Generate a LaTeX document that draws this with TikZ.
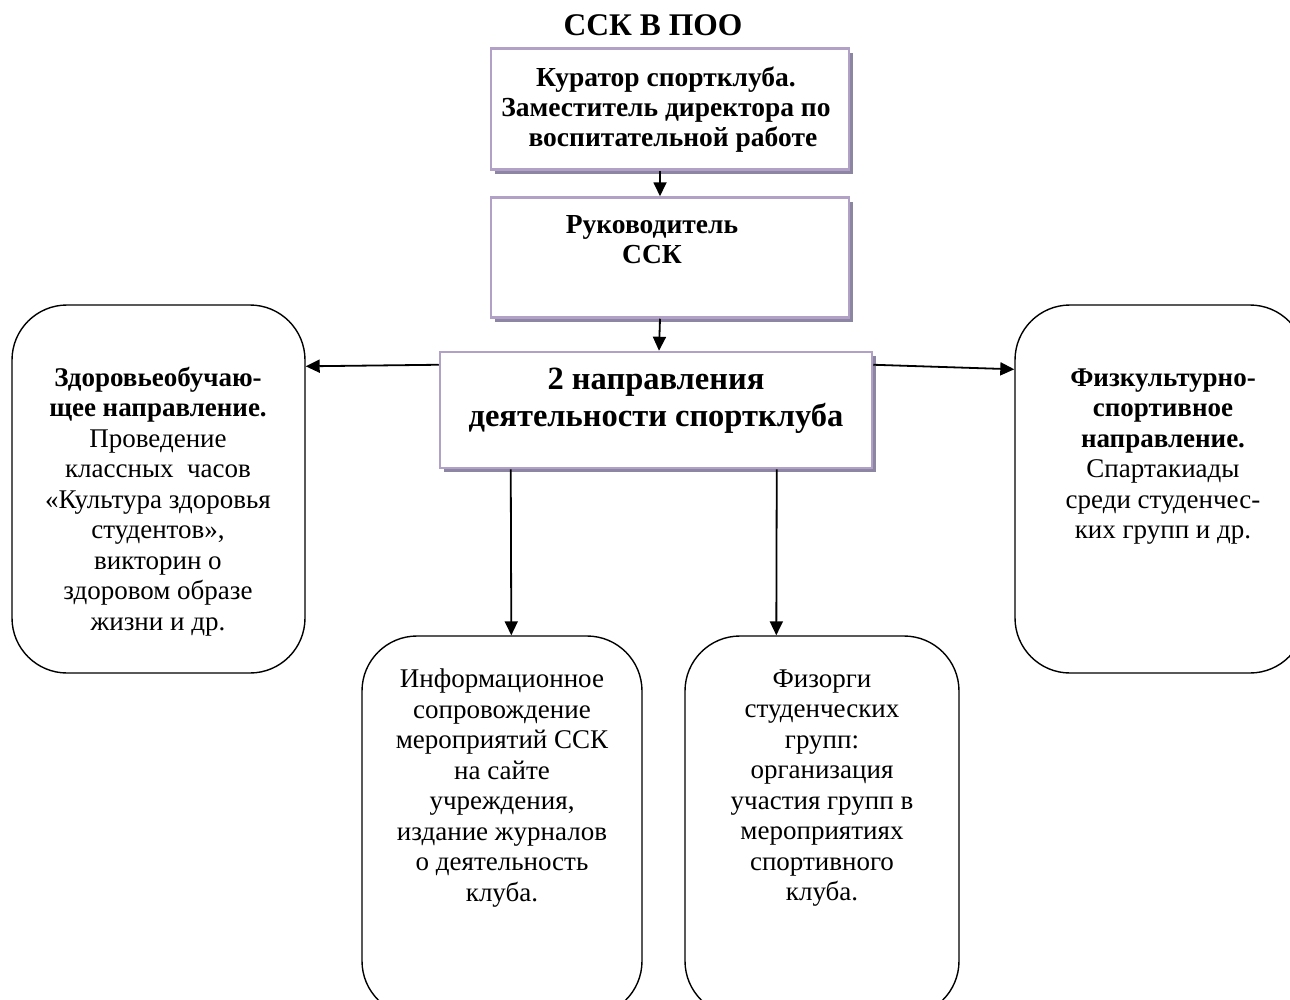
\documentclass[tikz,border=0pt]{standalone}
\usepackage{fontspec}
\setmainfont{Liberation Serif}
\usetikzlibrary{arrows.meta,shadows,calc}
\definecolor{lav}{RGB}{178,161,199}
\definecolor{shadowc}{RGB}{140,134,162}
\begin{document}
\begin{tikzpicture}[x=1pt,y=-1pt,
  sqbox/.style={draw=lav,line width=2.5pt,fill=white,minimum width=#1,inner sep=0pt,
     drop shadow={shadow xshift=4pt,shadow yshift=-4pt,fill=shadowc,opacity=1}},
  rbox/.style={draw=black,line width=1.4pt,rounded corners=55pt,inner sep=0pt,fill=white},
  body/.style={align=center,inner sep=0pt,font=\fontsize{27}{30.5}\selectfont},
  hdr/.style={align=center,inner sep=0pt,font=\bfseries\fontsize{27.5}{30}\selectfont},
  conn/.style={line width=1.8pt,-{Triangle[length=14pt,width=13pt]}}]
\useasboundingbox (0,0) rectangle (1290,999);
\clip (0,0) rectangle (1290,999);

% title
\node[inner sep=0pt,font=\bfseries\fontsize{31.5}{34}\selectfont] (title) at (653,25) {ССК В ПОО};

% square boxes
\node[sqbox=358pt,minimum height=121pt] (b1) at (670,109) {};
\node[sqbox=358pt,minimum height=120pt] (b2) at (670,257.5) {};
\node[sqbox=432pt,minimum height=116pt] (b3) at (656,410) {};

\node[hdr] (t1) at (666,110) {Куратор спортклуба.\\Заместитель директора по\\\ \ воспитательной работе};
\node[hdr] (t2) at (652,240) {Руководитель\\ССК};
\node[align=center,inner sep=0pt,font=\bfseries\fontsize{32.5}{37}\selectfont] (t3) at (656,401) {2 направления\\деятельности спортклуба};

% rounded boxes
\node[rbox,minimum width=293pt,minimum height=368pt] (lb) at (158.5,489) {};
\node[rbox,minimum width=290pt,minimum height=368pt] (rb) at (1160,489) {};
\node[rbox,minimum width=280pt,minimum height=380pt] (bl) at (502,826) {};
\node[rbox,minimum width=274pt,minimum height=380pt] (br) at (822,826) {};

\node[body] (tl) at (158,501.5) {\textbf{Здоровьеобучаю-}\\\textbf{щее направление.}\\Проведение\\классных\ \ часов\\«Культура здоровья\\студентов»,\\викторин о\\здоровом образе\\жизни и др.};
\node[body] (tr) at (1163,456.5) {\textbf{Физкультурно-}\\\textbf{спортивное}\\\textbf{направление.}\\Спартакиады\\среди студенчес-\\ких групп и др.};
\node[body] (tbl) at (502,788) {Информационное\\сопровождение\\мероприятий ССК\\на сайте\\учреждения,\\издание журналов\\о деятельность\\клуба.};
\node[body] (tbr) at (822,788) {Физорги\\студенческих\\групп:\\организация\\участия групп в\\мероприятиях\\спортивного\\клуба.};

% connectors
\draw[conn] ($(b1.south)+(-10,0)$) -- ($(b2.north)+(-10,0)$);
\draw[conn] ($(b2.south)+(-10,0)$) -- ($(b3.north)+(3,0)$);
\draw[conn] ($(b3.north west)+(0,14)$) -- ($(lb.north east)+(0,62)$);
\draw[conn] ($(b3.north east)+(0,14)$) -- ($(rb.north west)+(0,65)$);
\draw[conn] ($(b3.south west)+(72,0)$) -- ($(bl.north west)+(150,0)$);
\draw[conn] ($(b3.south west)+(338,0)$) -- ($(br.north west)+(92,0)$);
\end{tikzpicture}
\end{document}
